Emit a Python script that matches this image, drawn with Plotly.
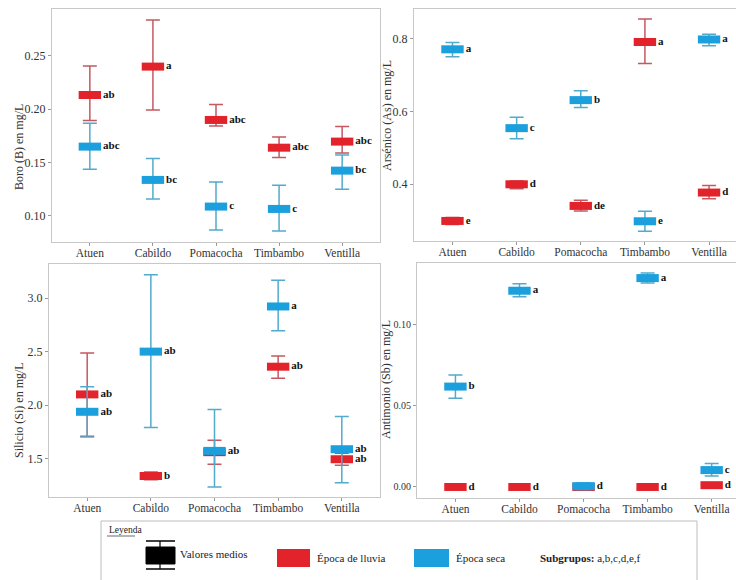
import plotly.graph_objects as go

W, H = 736, 580
sites = ["Atuen", "Cabildo", "Pomacocha", "Timbambo", "Ventilla"]

# Boro
b_red_mean = [0.2134, 0.2400, 0.1900, 0.1640, 0.1697]
b_red_hi = [0.2406, 0.2838, 0.2044, 0.1740, 0.1838]
b_red_lo = [0.1894, 0.1994, 0.1844, 0.1547, 0.1590]
b_blue_mean = [0.1650, 0.1338, 0.1088, 0.1066, 0.1425]
b_blue_hi = [0.1869, 0.1538, 0.1319, 0.1288, 0.1572]
b_blue_lo = [0.1438, 0.1160, 0.0869, 0.0859, 0.1250]
b_red_lab = ["ab", "a", "abc", "abc", "abc"]
b_blue_lab = ["abc", "bc", "c", "c", "bc"]

# Arsenico
a_red_mean = [0.2995, 0.4000, 0.3407, 0.7900, 0.3773]
a_red_hi = [0.3086, 0.4093, 0.3562, 0.8530, 0.3965]
a_red_lo = [0.2894, 0.3880, 0.3270, 0.7314, 0.3600]
a_blue_mean = [0.7700, 0.5539, 0.6307, 0.2986, 0.7970]
a_blue_hi = [0.7890, 0.5840, 0.6563, 0.3260, 0.8110]
a_blue_lo = [0.7497, 0.5246, 0.6106, 0.2711, 0.7800]
a_red_lab = ["e", "d", "de", "a", "d"]
a_blue_lab = ["a", "c", "b", "e", "a"]

# Silicio
s_red_mean = [2.100, 1.3375, 1.560, 2.359, 1.494]
s_red_hi = [2.4875, 1.375, 1.672, 2.459, 1.550]
s_red_lo = [1.710, 1.303, 1.447, 2.250, 1.4375]
s_blue_mean = [1.9375, 2.500, 1.572, 2.922, 1.5875]
s_blue_hi = [2.172, 3.219, 1.959, 3.166, 1.894]
s_blue_lo = [1.703, 1.790, 1.234, 2.694, 1.275]
s_red_lab = ["ab", "b", "", "ab", "ab"]
s_blue_lab = ["ab", "ab", "ab", "a", "ab"]

# Antimonio
t_red_mean = [0.0000, 0.0000, 0.0000, 0.0000, 0.0011]
t_red_hi = [0.0005, 0.0005, 0.0005, 0.0005, 0.0021]
t_red_lo = [-0.0005, -0.0005, -0.0005, -0.0005, 0.0001]
t_blue_mean = [0.0619, 0.1210, 0.0005, 0.1288, 0.0104]
t_blue_hi = [0.0691, 0.1253, 0.0025, 0.1320, 0.0145]
t_blue_lo = [0.0547, 0.1173, -0.0015, 0.1258, 0.0067]
t_red_lab = ["d", "d", "", "d", "d"]
t_blue_lab = ["b", "a", "d", "a", "c"]

RED, BLUE = "#e3232b", "#1b9fdd"
RED_W, BLUE_W = "#c45a60", "#52abcc"
SERIF = "Liberation Serif"

panels = [
    dict(title="Boro (B) en mg/L", red=(b_red_mean, b_red_hi, b_red_lo, b_red_lab),
         blue=(b_blue_mean, b_blue_hi, b_blue_lo, b_blue_lab),
         xdom=(52, 380), ydom=(9, 242), yr=[0.0756, 0.294], xr=[-0.6, 4.6],
         tv=[0.10, 0.15, 0.20, 0.25], fmt=".2f", mirror=True, tx=19, ty=147, tfs=12),
    dict(title="Arsénico (As) en mg/L", red=(a_red_mean, a_red_hi, a_red_lo, a_red_lab),
         blue=(a_blue_mean, a_blue_hi, a_blue_lo, a_blue_lab),
         xdom=(414, 736), ydom=(9, 241), yr=[0.2445, 0.8805], xr=[-0.6, 4.42],
         tv=[0.4, 0.6, 0.8], fmt=".1f", mirror=False, tx=387, ty=116, tfs=12),
    dict(title="Silicio (Si) en mg/L", red=(s_red_mean, s_red_hi, s_red_lo, s_red_lab),
         blue=(s_blue_mean, s_blue_hi, s_blue_lo, s_blue_lab),
         xdom=(49, 380), ydom=(264, 497), yr=[1.141, 3.319], xr=[-0.6, 4.6],
         tv=[1.5, 2.0, 2.5, 3.0], fmt=".1f", mirror=True, tx=19, ty=410, tfs=12),
    dict(title="Antimonio (Sb) en mg/L", red=(t_red_mean, t_red_hi, t_red_lo, t_red_lab),
         blue=(t_blue_mean, t_blue_hi, t_blue_lo, t_blue_lab),
         xdom=(417, 736), ydom=(263, 498), yr=[-0.0068, 0.1381], xr=[-0.6, 4.38],
         tv=[0.00, 0.05, 0.10], fmt=".2f", mirror=False, tx=386, ty=380, tfs=10),
]

def px(x):
    return x / W

def py(y):
    return 1 - y / H

fig = go.Figure()
layout = dict(width=W, height=H, margin=dict(l=0, r=0, t=0, b=0),
              paper_bgcolor="white", plot_bgcolor="white", showlegend=False)
annotations = []
shapes = []

for i, p in enumerate(panels):
    k = "" if i == 0 else str(i + 1)
    xa, ya = "x" + k, "y" + k
    for series, box_c, wh_c in ((p["red"], RED, RED_W), (p["blue"], BLUE, BLUE_W)):
        mean, hi, lo, lab = series
        fig.add_trace(go.Scatter(
            x=sites, y=mean, xaxis=xa, yaxis=ya, mode="markers+text",
            text=[("\u2009" + t) if t else "" for t in lab], textposition="middle right",
            textfont=dict(family=SERIF, size=11, color="#111", weight="bold"),
            marker=dict(symbol="line-ew", size=16, color=box_c,
                        line=dict(color=box_c, width=8)),
            error_y=dict(type="data", symmetric=False,
                         array=[h - m for h, m in zip(hi, mean)],
                         arrayminus=[m - l for m, l in zip(mean, lo)],
                         color=wh_c, thickness=1.5, width=7),
            cliponaxis=False, hoverinfo="skip"))
    layout["xaxis" + k] = dict(
        domain=[px(p["xdom"][0]), px(p["xdom"][1])], anchor=ya, range=p["xr"],
        type="category", categoryorder="array", categoryarray=sites,
        showline=True, linecolor="#c8c8c8", linewidth=1, mirror=True,
        showgrid=False, zeroline=False, ticks="outside", ticklen=3, tickcolor="#999",
        ticklabelstandoff=-3,
        tickfont=dict(family=SERIF, size=11.5, color="#333"))
    layout["yaxis" + k] = dict(
        domain=[py(p["ydom"][1]), py(p["ydom"][0])], anchor=xa, range=p["yr"],
        showline=True, linecolor="#c8c8c8", linewidth=1, mirror=p["mirror"],
        showgrid=False, zeroline=False, ticks="outside", ticklen=3, tickcolor="#999",
        tickvals=p["tv"], tickformat=p["fmt"],
        tickfont=dict(family=SERIF, size=p["tfs"], color="#333"))
    annotations.append(dict(x=px(p["tx"]), y=py(p["ty"]), xref="paper", yref="paper",
                            text=p["title"], textangle=-90, showarrow=False,
                            font=dict(family=SERIF, size=12, color="#333"),
                            xanchor="center", yanchor="middle"))

# Legend box (decoration)
shapes.append(dict(type="rect", xref="paper", yref="paper", x0=px(101), x1=px(697),
                   y0=py(583), y1=py(521), line=dict(color="#bdbdbd", width=1),
                   fillcolor="white", layer="below"))
annotations.append(dict(x=px(107), y=py(530), xref="paper", yref="paper",
                        text="Leyenda", showarrow=False, xanchor="left", yanchor="middle",
                        font=dict(family=SERIF, size=9.5, color="#222")))
shapes.append(dict(type="line", xref="paper", yref="paper", x0=px(107), x1=px(135),
                   y0=py(536), y1=py(536), line=dict(color="#444", width=0.8)))
# black icon
shapes.append(dict(type="line", xref="paper", yref="paper", x0=px(160), x1=px(160),
                   y0=py(541), y1=py(569), line=dict(color="black", width=1.2)))
shapes.append(dict(type="line", xref="paper", yref="paper", x0=px(146), x1=px(175),
                   y0=py(541), y1=py(541), line=dict(color="black", width=1.5)))
shapes.append(dict(type="line", xref="paper", yref="paper", x0=px(146), x1=px(175),
                   y0=py(569), y1=py(569), line=dict(color="black", width=1.5)))
shapes.append(dict(type="rect", xref="paper", yref="paper", x0=px(146), x1=px(175),
                   y0=py(564), y1=py(547), line=dict(color="black", width=1), fillcolor="black"))
annotations.append(dict(x=px(178), y=py(554), xref="paper", yref="paper",
                        text="Valores medios", showarrow=False, xanchor="left", yanchor="middle",
                        font=dict(family=SERIF, size=11, color="#222")))
shapes.append(dict(type="rect", xref="paper", yref="paper", x0=px(277), x1=px(310),
                   y0=py(567), y1=py(549), line=dict(width=0), fillcolor=RED))
annotations.append(dict(x=px(315), y=py(558), xref="paper", yref="paper",
                        text="Época de lluvia", showarrow=False, xanchor="left", yanchor="middle",
                        font=dict(family=SERIF, size=11, color="#222")))
shapes.append(dict(type="rect", xref="paper", yref="paper", x0=px(414), x1=px(449),
                   y0=py(567), y1=py(549), line=dict(width=0), fillcolor=BLUE))
annotations.append(dict(x=px(454), y=py(558), xref="paper", yref="paper",
                        text="Época seca", showarrow=False, xanchor="left", yanchor="middle",
                        font=dict(family=SERIF, size=11, color="#222")))
annotations.append(dict(x=px(538), y=py(558), xref="paper", yref="paper",
                        text="<b>Subgrupos:</b> a,b,c,d,e,f", showarrow=False,
                        xanchor="left", yanchor="middle",
                        font=dict(family=SERIF, size=11, color="#222")))

layout["annotations"] = annotations
layout["shapes"] = shapes
fig.update_layout(**layout)
fig.write_html("out.html", config={"displayModeBar": False},
               post_script="document.body.style.margin='0';document.body.style.overflow='hidden';")
